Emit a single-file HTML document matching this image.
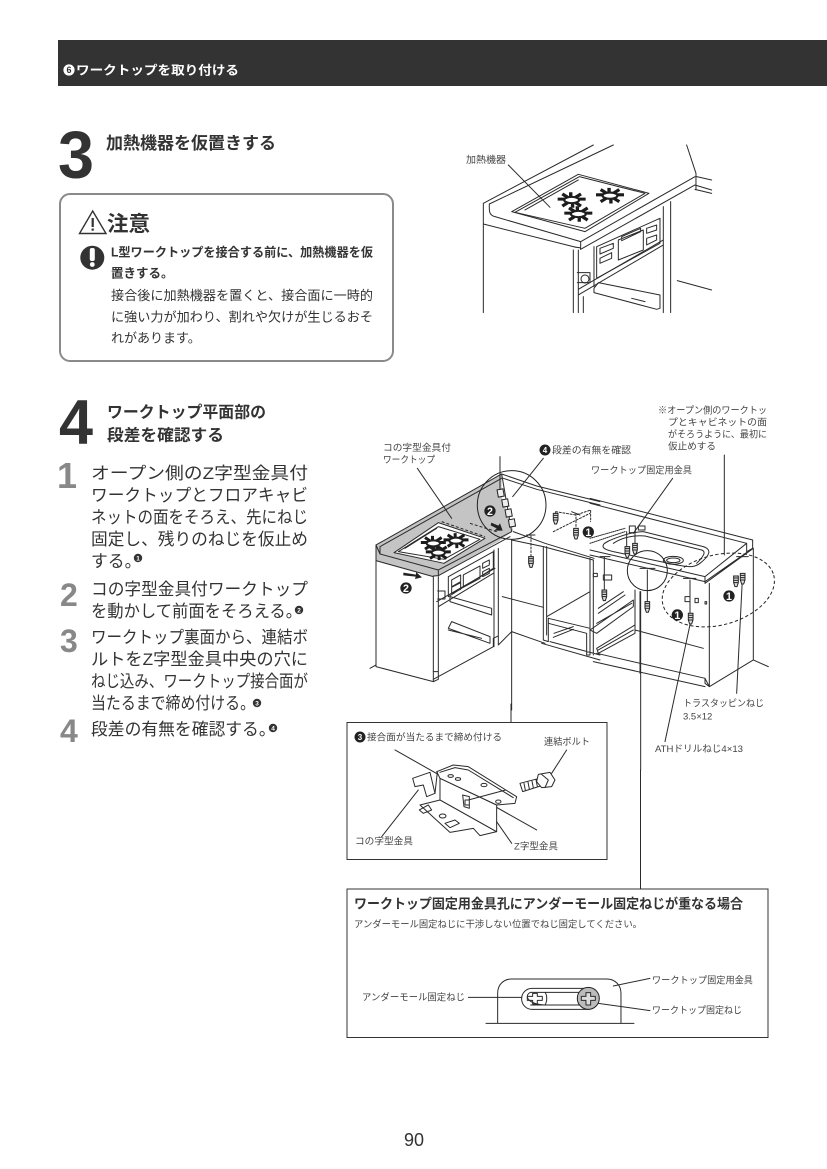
<!DOCTYPE html>
<html lang="ja"><head><meta charset="utf-8"><title>ワークトップを取り付ける</title>
<style>
html,body{margin:0;padding:0;background:#fff}
svg{display:block}
text{font-family:"Liberation Sans","Noto Sans CJK JP",sans-serif;fill:#333}
.l{font-size:9.5px;fill:#444}
.b{font-weight:bold}
.d{fill:none;stroke:#2a2a2a;stroke-width:3;stroke-linejoin:round;stroke-linecap:round}
.d2{fill:none;stroke:#2a2a2a;stroke-width:1;stroke-linecap:round;stroke-linejoin:round}
.w{fill:#fff;stroke:#2a2a2a;stroke-width:3;stroke-linejoin:round}
.c{fill:#fff;font-weight:bold;font-family:"Liberation Sans",sans-serif;text-anchor:middle}
</style></head><body>
<svg width="827" height="1169" viewBox="0 0 827 1169" xmlns="http://www.w3.org/2000/svg">
<defs>
<g id="burner"><ellipse cx="0" cy="0" rx="8" ry="3.6" fill="none" stroke="#222" stroke-width="2.4"/>
<path d="M-15-1-7-1M7-1 15-1M-10-7-4-3M10-7 4-3M-10 7-4 3M10 7 4 3M-1-9-1-4M1 4 1 9" stroke="#1c1c1c" stroke-width="3.6" fill="none"/></g>
<g id="screw"><path d="M-7-20H7V0L3 12H-3L-7 0Z" fill="#ddd" stroke="#222" stroke-width="3"/><path d="M-6-14H6M-6-7H6M-6 0H6" stroke="#222" stroke-width="3"/></g>
</defs>

<rect x="58" y="40" width="769" height="46" fill="#333"/>
<circle cx="69" cy="70" r="5.6" fill="#fff"/>
<text class="b" x="69" y="73" font-size="9" text-anchor="middle" style="fill:#333;font-family:'Liberation Sans'">6</text>
<text class="b" x="76" y="74.5" font-size="12.5" textLength="163" lengthAdjust="spacingAndGlyphs" style="fill:#fff">ワークトップを取り付ける</text>

<text class="b" x="58" y="178" font-size="67" textLength="36" lengthAdjust="spacingAndGlyphs">3</text>
<text class="b" x="106" y="149" font-size="17" textLength="170" lengthAdjust="spacingAndGlyphs">加熱機器を仮置きする</text>

<rect x="60" y="194" width="333" height="167" rx="10" fill="#fff" stroke="#8a8a8a" stroke-width="2"/>
<path d="M79.5 233.5H106L92.7 211Z" fill="#fff" stroke="#333" stroke-width="1.4"/>
<rect x="91.6" y="218" width="2.2" height="9" fill="#333"/><rect x="91.6" y="228.5" width="2.2" height="2.2" fill="#333"/>
<text class="b" x="107" y="231" font-size="21" textLength="43" lengthAdjust="spacingAndGlyphs">注意</text>
<circle cx="92.3" cy="257.7" r="12" fill="#333"/>
<rect x="89.8" y="248" width="5" height="13" rx="2" fill="#fff"/><circle cx="92.3" cy="264.5" r="2.4" fill="#fff"/>
<text class="b" x="111" y="256.5" font-size="12.5" textLength="262" lengthAdjust="spacingAndGlyphs">L型ワークトップを接合する前に、加熱機器を仮</text>
<text class="b" x="111" y="277.5" font-size="12.5">置きする。</text>
<text x="111" y="300" font-size="13" textLength="262" lengthAdjust="spacingAndGlyphs">接合後に加熱機器を置くと、接合面に一時的</text>
<text x="111" y="321.5" font-size="13" textLength="262" lengthAdjust="spacingAndGlyphs">に強い力が加わり、割れや欠けが生じるおそ</text>
<text x="111" y="342.5" font-size="13">れがあります。</text>

<text class="b" x="59" y="444" font-size="63" textLength="34" lengthAdjust="spacingAndGlyphs">4</text>
<text class="b" x="107" y="417.5" font-size="16" textLength="159" lengthAdjust="spacingAndGlyphs">ワークトップ平面部の</text>
<text class="b" x="107" y="440.5" font-size="16" textLength="117" lengthAdjust="spacingAndGlyphs">段差を確認する</text>

<text class="b" x="57" y="488" font-size="36" style="fill:#888">1</text>
<text class="b" x="60" y="606" font-size="32" style="fill:#888">2</text>
<text class="b" x="60" y="652" font-size="32" style="fill:#888">3</text>
<text class="b" x="60" y="742" font-size="32" style="fill:#888">4</text>
<g font-size="16.8">
<text x="91" y="479" textLength="217" lengthAdjust="spacingAndGlyphs">オープン側のZ字型金具付</text>
<text x="91" y="501" textLength="217" lengthAdjust="spacingAndGlyphs">ワークトップとフロアキャビ</text>
<text x="91" y="523" textLength="217" lengthAdjust="spacingAndGlyphs">ネットの面をそろえ、先にねじ</text>
<text x="91" y="545" textLength="217" lengthAdjust="spacingAndGlyphs">固定し、残りのねじを仮止め</text>
<text x="91" y="567">する。</text>
<text x="91" y="595" textLength="217" lengthAdjust="spacingAndGlyphs">コの字型金具付ワークトップ</text>
<text x="91" y="617" textLength="211" lengthAdjust="spacingAndGlyphs">を動かして前面をそろえる。</text>
<text x="91" y="643" textLength="217" lengthAdjust="spacingAndGlyphs">ワークトップ裏面から、連結ボ</text>
<text x="91" y="665" textLength="217" lengthAdjust="spacingAndGlyphs">ルトをZ字型金具中央の穴に</text>
<text x="91" y="687" textLength="217" lengthAdjust="spacingAndGlyphs">ねじ込み、ワークトップ接合面が</text>
<text x="91" y="709" textLength="164" lengthAdjust="spacingAndGlyphs">当たるまで締め付ける。</text>
<text x="91" y="735">段差の有無を確認する。</text>
</g>
<g fill="#333"><circle cx="138" cy="558" r="4.2"/><circle cx="299" cy="610" r="4.2"/><circle cx="257" cy="703" r="4.2"/><circle cx="273" cy="728" r="4.2"/></g>
<g font-size="6.5"><text class="c" x="138" y="560.5" font-size="6.5">1</text><text class="c" x="299" y="612.5" font-size="6.5">2</text><text class="c" x="257" y="705.5" font-size="6.5">3</text><text class="c" x="273" y="730.5" font-size="6.5">4</text></g>

<!-- top illustration -->
<text class="l" x="466" y="163" textLength="40" lengthAdjust="spacingAndGlyphs">加熱機器</text>
<g transform="translate(450 130) scale(.3333)">
<path class="d" d="M100 548V220L430 45M118 222 490 45M118 222C118 240 115 255 135 260L392 335 735 140M100 282 370 350C385 355 392 350 392 358L735 165M392 335V358M738 130 710 45M738 130V180M740 140 785 150M735 165 785 180M735 178 785 190"/>
<path class="w" d="M185 245 385 133 597 190 405 305Z"/>
<path class="d" d="M195 247 388 140 585 190 405 295ZM225 240 385 150"/>
<path class="d" d="M175 105 300 232"/>
<use href="#burner" transform="translate(365 210) scale(2.8 2.6)"/><use href="#burner" transform="translate(480 197) scale(2.8 2.6)"/><use href="#burner" transform="translate(385 252) scale(2.8 2.6)"/>
<path class="d" d="M370 360V548M385 360V548M432 350V470M640 230V548M662 215V548M400 500V548M385 495 640 345M385 478 640 330"/>
<path class="d" d="M440 350 630 265V340L440 445ZM505 330 580 300V360L505 390ZM450 355 490 340V355L450 372ZM450 385 485 368V385L450 400ZM515 320 572 295V305L515 332ZM590 295 620 285V300L590 310ZM590 325 620 315V330L590 345Z"/>
<path class="d" d="M432 475 445 458 630 495V535L620 538 432 488ZM545 505 585 515"/>
<path class="d" d="M382 428H420V458H382"/><circle cx="405" cy="447" r="12" class="d"/>
<path class="d" d="M682 452 785 480"/>
</g>

<!-- main diagram labels -->
<text class="l" x="383" y="451" textLength="68" lengthAdjust="spacingAndGlyphs">コの字型金具付</text>
<text class="l" x="383" y="463" textLength="52" lengthAdjust="spacingAndGlyphs">ワークトップ</text>
<circle cx="545" cy="450" r="5.5" fill="#222"/><text class="c" x="545" y="453" font-size="8">4</text>
<text class="l" x="552" y="453.5" textLength="79" lengthAdjust="spacingAndGlyphs">段差の有無を確認</text>
<text class="l" x="591" y="473.5" textLength="101" lengthAdjust="spacingAndGlyphs">ワークトップ固定用金具</text>
<text class="l" x="658" y="413.5" textLength="109" lengthAdjust="spacingAndGlyphs">※オープン側のワークトッ</text>
<text class="l" x="668" y="425.5" textLength="99" lengthAdjust="spacingAndGlyphs">プとキャビネットの面</text>
<text class="l" x="668" y="437.5" textLength="99" lengthAdjust="spacingAndGlyphs">がそろうように、最初に</text>
<text class="l" x="668" y="449.5" textLength="48" lengthAdjust="spacingAndGlyphs">仮止めする</text>
<text class="l" x="683" y="706.5" textLength="81" lengthAdjust="spacingAndGlyphs">トラスタッピンねじ</text>
<text class="l" x="683" y="719.5">3.5×12</text>
<text class="l" x="655" y="752" textLength="88" lengthAdjust="spacingAndGlyphs">ATHドリルねじ4×13</text>

<!-- main diagram, left part -->
<g transform="translate(370 400) scale(.3333)">
<path d="M18 435 395 222 395 290 430 392 385 425 205 527 195 530 18 482Z" fill="#c4c4c4"/>
<path class="d" d="M18 435 395 222 425 395 205 510 30 462 18 435V800L190 845V530L18 482M205 527 420 410M190 528 205 527M205 510V527M30 462V440L395 235M0 805 18 795"/>
<path class="w" d="M72 458 205 368 345 415 222 490Z"/>
<path class="d" d="M85 455 205 380 330 418 222 478ZM105 445 200 385"/>
<path d="M215 365 345 410M300 370 380 395" fill="none" stroke="#222" stroke-width="3" stroke-dasharray="9 6"/>
<path class="d" d="M142 205 245 355"/>
<use href="#burner" transform="translate(190 430) scale(2.5)"/><use href="#burner" transform="translate(258 422) scale(2.5)"/><use href="#burner" transform="translate(205 458) scale(2.5)"/>
<path class="d" d="M205 530V838L190 845M190 815H205M190 838 370 740M372 450V740M385 445V735M370 740V715L385 708V735L425 695 525 730M200 605 375 505M205 620 370 520"/>
<path class="d" d="M235 530 370 455V505L235 590ZM280 525 330 498V535L280 562ZM245 540 272 525V545L245 560ZM245 562 272 548V568L245 580ZM338 490 358 480V495L338 505ZM338 515 358 505V520L338 530Z"/>
<path class="d" d="M203 573H225V597H203"/>
<path class="d" d="M240 590 365 625V645L240 605ZM235 685 245 665 360 710V730ZM235 690 335 715"/>
<path class="d" d="M425 420V930M397 590 520 622M390 170V270"/>
<circle cx="425" cy="315" r="103" fill="none" stroke="#222" stroke-width="3"/>
<path d="M428 290 520 175" class="d"/>
<g fill="#eee" stroke="#222" stroke-width="3"><rect x="383" y="268" width="18" height="22" transform="rotate(-10 392 279)"/><rect x="397" y="298" width="18" height="22" transform="rotate(-10 406 309)"/><rect x="407" y="328" width="18" height="22" transform="rotate(-10 416 339)"/><rect x="417" y="358" width="18" height="22" transform="rotate(-10 426 369)"/></g>
<circle cx="360" cy="333" r="17" fill="#222"/><text class="c" x="360" y="345" font-size="32">2</text>
<path d="M364 368 385 377 390 370 398 392 373 392 380 385 362 376Z" fill="#222"/>
<path d="M100 518 138 524 138 516 156 532 135 537 137 530 100 526Z" fill="#222"/>
<circle cx="108" cy="564" r="17" fill="#222"/><text class="c" x="108" y="576" font-size="32">2</text>
<path class="d" d="M430 395 525 430 672 475M425 420 520 440 670 480M395 222 500 258M400 235 500 268M500 258 690 305M500 268 690 315"/>
<path class="d" d="M520 440V700M530 440V705M520 700V720L535 725V655M530 650 660 575M535 655 660 685V765L650 765V700L535 670M540 725 690 765M515 730 690 780M660 475V765M670 480V765"/>
<path class="d" d="M552 700 610 680M550 712 610 688"/>
<use href="#screw" transform="translate(483 490)"/>
<use href="#screw" transform="translate(557 360)"/>
<use href="#screw" transform="translate(618 405)"/>
<path class="d" d="M483 408V470M618 340V385M557 335 618 345 662 330V365M557 335V345M550 395 660 340" stroke-dasharray="6 5"/>
<path class="d" d="M470 405H495M605 335 630 345"/>
<circle cx="655" cy="396" r="17" fill="#222"/><text class="c" x="655" y="408" font-size="32">1</text>
</g>

<!-- main diagram, right part -->
<g transform="translate(590 400) scale(.3333)">
<path class="d" d="M0 295 488 420V445L470 455V430L0 310M470 430 345 530 0 450M345 545 0 465M345 530V550L490 445V780L358 860V550M488 445 345 545M358 860 345 850V835M490 780 535 800M20 760 345 835M10 785 345 860M345 835 358 860"/>
<path class="d" d="M40 435C40 425 120 395 160 395L340 440C370 450 355 470 330 490 310 505 295 500 260 495L70 455C50 450 35 445 40 435Z"/>
<path class="d" d="M70 430C100 410 140 405 165 408L335 450C350 455 340 470 320 490"/>
<ellipse cx="250" cy="481" rx="30" ry="12" class="d"/><ellipse cx="250" cy="481" rx="20" ry="7" class="d"/>
<path class="d" d="M0 415 105 385M0 430 105 395"  stroke-dasharray="3 3"/>
<path class="d" d="M248 235 130 400M403 165V465M300 540V660M458 520 440 880M303 660 225 1025M172 510V620M43 470V580M152 575V1110M110 395V445M135 395V440"/>
<rect class="d" x="118" y="378" width="18" height="20"/><rect class="d" x="145" y="378" width="20" height="12"/>
<ellipse transform="rotate(-15 385 570)" cx="385" cy="570" rx="172" ry="105" fill="none" stroke="#222" stroke-width="3" stroke-dasharray="10 7"/>
<circle cx="172" cy="512" r="60" fill="none" stroke="#222" stroke-width="3"/>
<path class="d" d="M150 505H195M280 535H318M440 470H475M30 470H60"/>
<use href="#screw" transform="translate(112 460)"/><use href="#screw" transform="translate(135 450)"/>
<use href="#screw" transform="translate(438 548)"/><use href="#screw" transform="translate(458 540)"/>
<use href="#screw" transform="translate(302 660)"/><use href="#screw" transform="translate(172 625)"/><use href="#screw" transform="translate(43 590)"/>
<path class="d" d="M285 590H300V605H285ZM315 595H325V608H315ZM345 605H350V612H345ZM10 520H22V530H10ZM40 525H65V540H40Z"/>
<path class="d" d="M0 690 130 600V620L20 700ZM20 670 125 610M20 745 135 675V700L25 760ZM25 750 130 690M25 625 100 575M25 640 105 585M135 570V690M150 575V820M0 480V760M135 690 340 745"/>
<circle cx="262" cy="645" r="17" fill="#222"/><text class="c" x="262" y="657" font-size="32">1</text>
<circle cx="417" cy="588" r="17" fill="#222"/><text class="c" x="417" y="600" font-size="32">1</text>
</g>

<!-- box 1 -->
<rect x="347" y="722.5" width="260" height="137" fill="#fff" stroke="#333" stroke-width="1"/>
<path class="d2" d="M511 704V722"/>
<circle cx="360" cy="737" r="5.5" fill="#222"/><text class="c" x="360" y="740" font-size="8">3</text>
<text class="l" x="367" y="740.5" textLength="135" lengthAdjust="spacingAndGlyphs">接合面が当たるまで締め付ける</text>
<text class="l" x="544" y="745" textLength="46" lengthAdjust="spacingAndGlyphs">連結ボルト</text>
<text class="l" x="355" y="844.5" textLength="58" lengthAdjust="spacingAndGlyphs">コの字型金具</text>
<text class="l" x="514" y="849.5" textLength="44" lengthAdjust="spacingAndGlyphs">Z字型金具</text>
<g transform="translate(340 715) scale(.3333)">
<path class="d" d="M165 105 590 345"/>
<path class="w" d="M240 270 300 255 470 350 420 362 400 340 330 352Z"/>
<path class="w" d="M300 190 470 270V350L300 255Z"/>
<path class="w" d="M290 170 340 150 385 155 530 245 525 265 470 270 300 190Z"/>
<path class="d" d="M300 172 345 158 385 165 520 248"/>
<path class="w" d="M218 190 270 172 285 235 260 245 250 210 225 215Z"/>
<path class="d" d="M285 235 292 172M238 285 265 270 275 285 250 295ZM385 255 497 225"/>
<ellipse cx="332" cy="183" rx="8" ry="4" class="d"/><ellipse cx="354" cy="192" rx="8" ry="4" class="d"/><ellipse cx="432" cy="210" rx="9" ry="5" class="d"/><ellipse cx="475" cy="260" rx="8" ry="5" class="d"/><ellipse cx="308" cy="303" rx="10" ry="6" class="d"/>
<path class="d" d="M315 325 345 315 358 325 330 338ZM368 240 388 245V280L372 275ZM375 255H388V270H375Z"/>
<path class="d" d="M235 225 125 365M470 320 515 385M680 105 635 175"/>
<path class="w" d="M540 205 598 190 605 212 548 230Z"/>
<path d="M552 205 556 225M564 201 568 222M576 198 580 218M588 194 592 214" class="d"/>
<path class="w" d="M595 178 630 172 645 195 635 215 605 218 590 200Z"/>
<path class="d" d="M605 178 625 195 615 218"/>
</g>

<!-- box 2 -->
<rect x="347" y="889" width="421" height="148.5" fill="#fff" stroke="#333" stroke-width="1"/>
<path class="d2" d="M640.5 770V889"/>
<text class="b" x="354" y="908.5" font-size="13.5" textLength="389" lengthAdjust="spacingAndGlyphs">ワークトップ固定用金具孔にアンダーモール固定ねじが重なる場合</text>
<text class="l" x="354" y="927.5" font-size="9" textLength="288" lengthAdjust="spacingAndGlyphs">アンダーモール固定ねじに干渉しない位置でねじ固定してください。</text>
<text class="l" x="362" y="1000.5" textLength="103" lengthAdjust="spacingAndGlyphs">アンダーモール固定ねじ</text>
<text class="l" x="652" y="983.5" textLength="101" lengthAdjust="spacingAndGlyphs">ワークトップ固定用金具</text>
<text class="l" x="652" y="1013.5" textLength="90" lengthAdjust="spacingAndGlyphs">ワークトップ固定ねじ</text>
<g transform="translate(340 880) scale(.3333)">
<path class="d" d="M473 430V340C473 315 490 297 515 297H800C825 297 843 315 843 340V430M438 430H882"/>
<rect class="d" x="545" y="325" width="230" height="63" rx="31"/>
<path class="d" d="M615 337H720M615 375H720M615 337C622 345 622 365 615 375M572 337H615M572 375H615C560 372 552 345 572 337"/>
<path class="d" d="M578 340H592V349H607V361H592V372H578V361H562V349H578Z"/>
<circle cx="745" cy="355" r="33" fill="#bbb" stroke="#222" stroke-width="3"/>
<path class="d" d="M738 338H752V349H766V361H752V375H738V361H724V349H738Z" style="fill:#ddd"/>
<path class="d" d="M385 352H545M930 295 820 318M930 392 775 370"/>
</g>

<text x="404" y="1146" font-size="18" textLength="20">90</text>
</svg>
</body></html>
